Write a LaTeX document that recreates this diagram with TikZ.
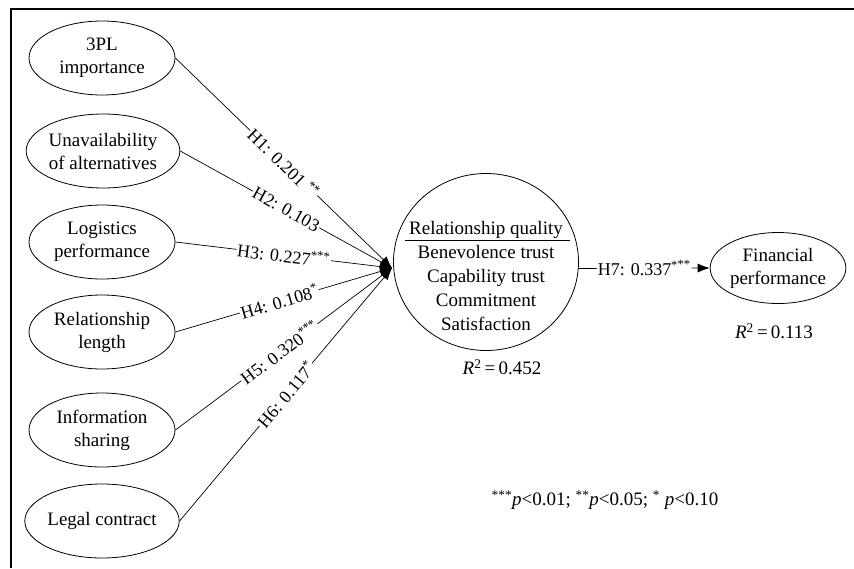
\documentclass[tikz,border=0pt]{standalone}
\usepackage{fontspec}
\setmainfont{Liberation Serif}
\usetikzlibrary{shapes.geometric,arrows.meta}

\tikzset{
  construct/.style={ellipse, draw, line width=0.8pt, minimum width=146pt, minimum height=74pt,
    inner sep=0pt, align=center, font=\fontsize{19}{23}\selectfont},
  pathlabel/.style={sloped, fill=white, inner sep=1pt, font=\fontsize{18}{22}\selectfont},
  link/.style={-{Latex[length=12pt,width=9pt]}, line width=0.7pt},
  note/.style={font=\fontsize{19}{23}\selectfont}
}

\begin{document}
\begin{tikzpicture}[x=1pt, y=-1pt]
  \useasboundingbox (0,0) rectangle (854,568);
  % frame, cut at right and bottom
  \draw[line width=2.5pt] (11,568) |- (854,9);

  % antecedents
  \node[construct] (imp)  at (102,58)  {3PL\\importance};
  \node[construct] (alt)  at (103,151) {Unavailability\\of alternatives};
  \node[construct] (perf) at (102,242) {Logistics\\performance};
  \node[construct] (len)  at (102,332) {Relationship\\length};
  \node[construct] (info) at (102,430) {Information\\sharing};
  \node[construct] (legal) at (102,521) {Legal contract};

  % relationship quality
  \node[ellipse, draw, line width=0.8pt, minimum width=185pt, minimum height=177pt] (rq) at (486,262) {};
  \node[align=center, font=\fontsize{19}{24}\selectfont] (rqtext) at (486,276)
    {Relationship quality\\Benevolence trust\\Capability trust\\Commitment\\Satisfaction};
  \draw[line width=0.7pt] (405,240) -- (570,240);
  \node[note] (rqr) at (502,367) {\textit{R}\textsuperscript{2}\,=\,0.452};

  % outcome
  \node[construct, minimum width=133pt, minimum height=71pt] (fin) at (778,268) {Financial\\performance};
  \node[note] (finr) at (774,331) {\textit{R}\textsuperscript{2}\,=\,0.113};

  % hypotheses
  \coordinate (hub) at (392,268);
  \draw[link] (imp.east)   -- node[pathlabel, pos=0.5]  {H1: 0.201 \textsuperscript{**}} (hub);
  \draw[link] (alt.east)   -- node[pathlabel, pos=0.5]  {H2: 0.103} (hub);
  \draw[link] (perf.east)  -- node[pathlabel, pos=0.5]  {H3: 0.227\textsuperscript{***}} (hub);
  \draw[link] (len.east)   -- node[pathlabel, pos=0.48] {H4: 0.108\textsuperscript{*}} (hub);
  \draw[link] (info.east)  -- node[pathlabel, pos=0.48] {H5: 0.320\textsuperscript{***}} (hub);
  \draw[link] (legal.east) -- node[pathlabel, pos=0.5]  {H6: 0.117\textsuperscript{*}} (hub);
  \draw[link] (rq.-4) -- node[pathlabel, pos=0.5] {H7: 0.337\textsuperscript{***}} (fin.west);

  % significance levels
  \node[note] (sig) at (605,500) {\textsuperscript{***}\textit{p}<0.01; \textsuperscript{**}\textit{p}<0.05; \textsuperscript{*} \textit{p}<0.10};
\end{tikzpicture}
\end{document}
